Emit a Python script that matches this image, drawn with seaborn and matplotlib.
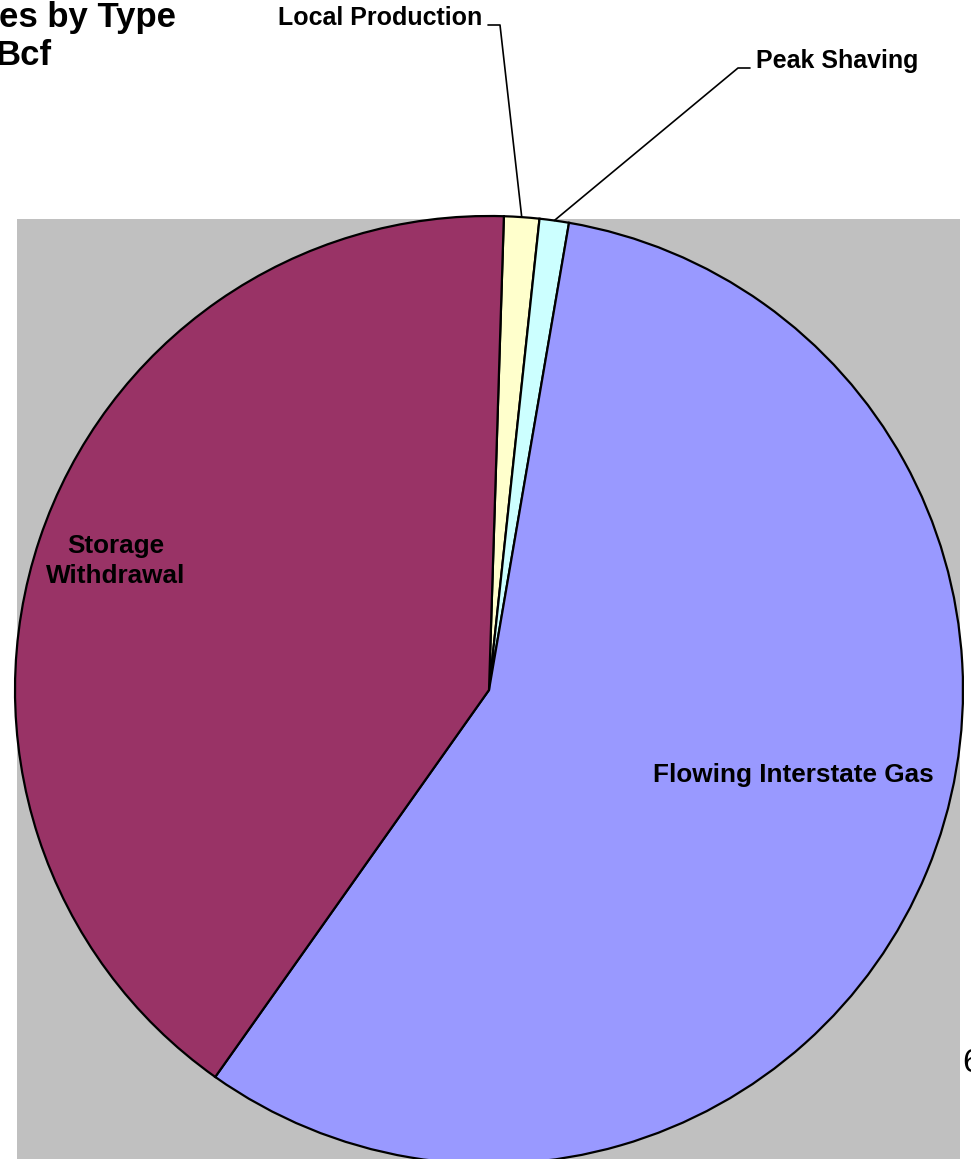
import matplotlib
matplotlib.use("Agg")
import matplotlib.pyplot as plt
from matplotlib.patches import Rectangle
import numpy as np
import seaborn as sns

# Supply mix (share of total, percent)
categories = ["Local Production", "Peak Shaving", "Flowing Interstate Gas", "Storage Withdrawal"]
shares = [1.2, 1.0, 57.1, 40.7]
colors = ["#FFFFCC", "#CCFFFF", "#9999FF", "#993366"]

sns.set_theme(style="white")
plt.rcParams["font.family"] = ["Liberation Sans", "DejaVu Sans"]
plt.rcParams["text.color"] = "black"

W, H = 971, 1159
fig = plt.figure(figsize=(W / 100, H / 100), dpi=100)
fig.patch.set_facecolor("white")

# grey plot area
fig.add_artist(Rectangle((17 / W, 0), (960 - 17) / W, (H - 219) / H,
                         transform=fig.transFigure, facecolor="#C0C0C0",
                         edgecolor="none", zorder=-5))

# pie axes: centre (489, 690) px, radius 474 px
cx, cy, r = 489, 690, 474
ax = fig.add_axes([(cx - r) / W, (H - cy - r) / H, 2 * r / W, 2 * r / H])
ax.set_axis_off()
ax.patch.set_visible(False)

start = 1.8
wedges, _ = ax.pie(shares, colors=colors, startangle=90 - start, counterclock=False,
                   radius=1.0, wedgeprops=dict(edgecolor="black", linewidth=1.6),
                   frame=False)
for w in wedges:
    w.set_clip_on(False)
ax.set_aspect("auto")
ax.set_xlim(-1, 1)
ax.set_ylim(-1, 1)


def px(x, y):
    return (x - cx) / r, (cy - y) / r


# mid-angle anchor points for the small slices
bounds = np.concatenate([[0], np.cumsum(shares)]) / sum(shares) * 360 + start
mids = (bounds[:-1] + bounds[1:]) / 2


def edge_point(deg):
    t = np.deg2rad(deg)
    return np.sin(t), np.cos(t)


out_font = dict(fontsize=18, fontweight="bold", color="black")
in_font = dict(fontsize=18.8, fontweight="bold", color="black")

# Local Production leader
ax0, ay0 = edge_point(mids[0])
hx0, hy0 = px(488, 25)
hx1, hy1 = px(500, 25)
ax.plot([hx0, hx1, ax0], [hy0, hy1, ay0], color="black", lw=1.2, clip_on=False)
tx, ty = px(482, 18)
ax.text(tx, ty, categories[0], ha="right", va="center", **out_font)

# Peak Shaving leader
ax1, ay1 = edge_point(mids[1])
gx0, gy0 = px(750, 68)
gx1, gy1 = px(738, 68)
ax.plot([gx0, gx1, ax1], [gy0, gy1, ay1], color="black", lw=1.2, clip_on=False)
tx, ty = px(756, 61)
ax.text(tx, ty, categories[1], ha="left", va="center", **out_font)

# in-slice labels
tx, ty = px(793, 775)
ax.text(tx, ty, categories[2], ha="center", va="center", **in_font)
tx, ty = px(116, 561)
ax.text(tx, ty, "Storage\nWithdrawal", ha="center", va="center",
        linespacing=1.3, **in_font)

# title (runs off the left edge)
fig.text(176 / W, 1 - 27 / H, "es by Type", ha="right", va="baseline",
         fontsize=25, fontweight="bold", color="black")
fig.text(52 / W, 1 - 65 / H, "Bcf", ha="right", va="baseline",
         fontsize=25, fontweight="bold", color="black")

# page number
fig.text(962 / W, 1 - 1072 / H, "6", ha="left", va="baseline", fontsize=24,
         color="black")

fig.savefig("out.png", dpi=100)
